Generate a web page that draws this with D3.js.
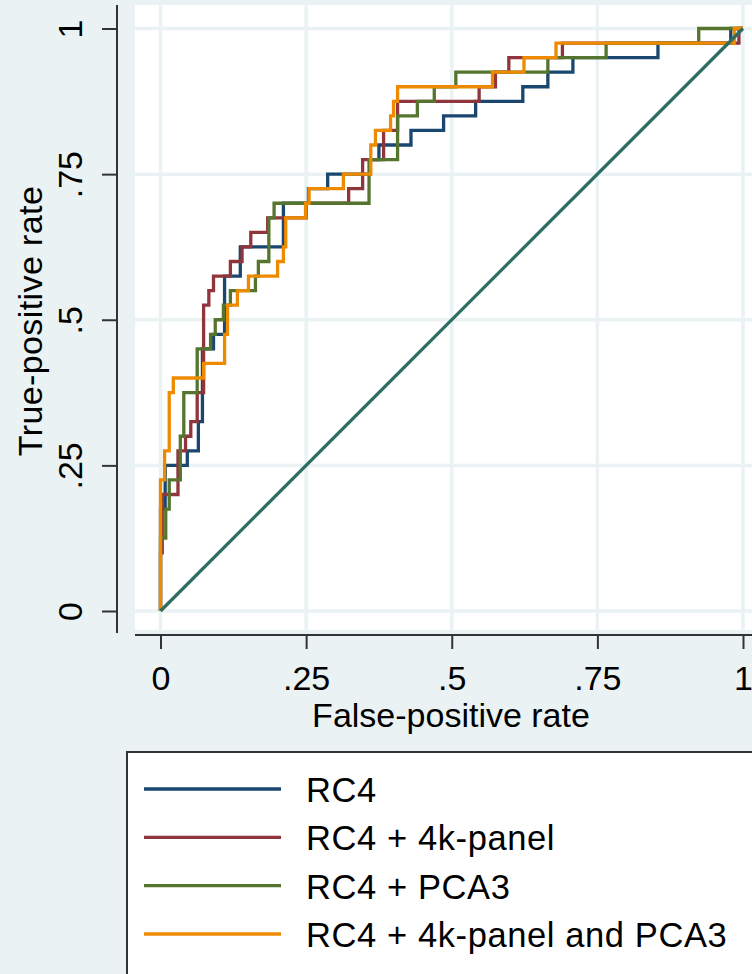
<!DOCTYPE html>
<html>
<head>
<meta charset="utf-8">
<script src="https://cdn.jsdelivr.net/npm/d3@7"></script>
<style>
  html, body { margin: 0; padding: 0; background: #eaf2f3; }
  svg { display: block; }
  text { font-family: "Liberation Sans", Arial, sans-serif; fill: #000; }
</style>
</head>
<body>
<svg id="chart" width="752" height="974"></svg>
<script>
// ---- Data ----
const tickValues = [0, 0.25, 0.5, 0.75, 1];
const tickLabels = ["0", ".25", ".5", ".75", "1"];
const seriesNames = ["RC4", "RC4 + 4k-panel", "RC4 + PCA3", "RC4 + 4k-panel and PCA3"];
const seriesColors = ["#1a476f", "#90353b", "#55752f", "#ee8a00"];

const rc4FPR = [0,0,0.008,0.008,0.046,0.046,0.065,0.065,0.072,0.072,0.091,0.091,0.11,0.11,0.137,0.137,0.211,0.211,0.254,0.254,0.287,0.287,0.36,0.36,0.375,0.375,0.43,0.43,0.486,0.486,0.541,0.541,0.622,0.622,0.665,0.665,0.708,0.708,0.854,0.854,0.979,0.979,1];
const rc4TPR = [0,0.175,0.175,0.25,0.25,0.275,0.275,0.325,0.325,0.45,0.45,0.475,0.475,0.575,0.575,0.625,0.625,0.7,0.7,0.725,0.725,0.75,0.75,0.775,0.775,0.8,0.8,0.825,0.825,0.85,0.85,0.875,0.875,0.9,0.9,0.925,0.925,0.95,0.95,0.975,0.975,1,1];

const rc4kFPR = [0,0,0.003,0.003,0.03,0.03,0.043,0.043,0.052,0.052,0.063,0.063,0.074,0.074,0.083,0.083,0.091,0.091,0.12,0.12,0.14,0.14,0.155,0.155,0.184,0.184,0.25,0.25,0.323,0.323,0.347,0.347,0.383,0.383,0.407,0.407,0.547,0.547,0.575,0.575,0.598,0.598,0.69,0.69,0.993,0.993,1];
const rc4kTPR = [0,0.1,0.1,0.2,0.2,0.275,0.275,0.3,0.3,0.325,0.325,0.375,0.375,0.525,0.525,0.55,0.55,0.575,0.575,0.6,0.6,0.625,0.625,0.65,0.65,0.675,0.675,0.7,0.7,0.725,0.725,0.775,0.775,0.825,0.825,0.875,0.875,0.9,0.9,0.925,0.925,0.95,0.95,0.975,0.975,1,1];

const rcPcaFPR = [0,0,0.009,0.009,0.015,0.015,0.034,0.034,0.04,0.04,0.063,0.063,0.086,0.086,0.094,0.094,0.108,0.108,0.12,0.12,0.163,0.163,0.168,0.168,0.186,0.186,0.195,0.195,0.358,0.358,0.407,0.407,0.441,0.441,0.47,0.47,0.507,0.507,0.665,0.665,0.765,0.765,0.924,0.924,1];
const rcPcaTPR = [0,0.125,0.125,0.175,0.175,0.225,0.225,0.3,0.3,0.375,0.375,0.45,0.45,0.475,0.475,0.5,0.5,0.525,0.525,0.55,0.55,0.575,0.575,0.6,0.6,0.675,0.675,0.7,0.7,0.775,0.775,0.85,0.85,0.875,0.875,0.9,0.9,0.925,0.925,0.95,0.95,0.975,0.975,1,1];

const allFPR = [0,0,0.007,0.007,0.015,0.015,0.022,0.022,0.074,0.074,0.11,0.11,0.115,0.115,0.132,0.132,0.151,0.151,0.201,0.201,0.211,0.211,0.215,0.215,0.249,0.249,0.255,0.255,0.314,0.314,0.361,0.361,0.369,0.369,0.395,0.395,0.4,0.4,0.407,0.407,0.57,0.57,0.624,0.624,0.679,0.679,0.985,0.985,1];
const allTPR = [0,0.225,0.225,0.275,0.275,0.375,0.375,0.4,0.4,0.425,0.425,0.475,0.475,0.525,0.525,0.55,0.55,0.575,0.575,0.6,0.6,0.625,0.625,0.675,0.675,0.7,0.7,0.725,0.725,0.75,0.75,0.8,0.8,0.825,0.825,0.85,0.85,0.875,0.875,0.9,0.9,0.925,0.925,0.95,0.95,0.975,0.975,1,1];

const refFPR = [0, 1];
const refTPR = [0, 1];
const refColor = "#2e6e62";

// ---- Build ----
const series = [
  {name: seriesNames[0], color: seriesColors[0], fpr: rc4FPR, tpr: rc4TPR},
  {name: seriesNames[1], color: seriesColors[1], fpr: rc4kFPR, tpr: rc4kTPR},
  {name: seriesNames[2], color: seriesColors[2], fpr: rcPcaFPR, tpr: rcPcaTPR},
  {name: seriesNames[3], color: seriesColors[3], fpr: allFPR, tpr: allTPR}
];

const svg = d3.select("#chart");
const x = d3.scaleLinear().domain([0, 1]).range([160.5, 743]);
const y = d3.scaleLinear().domain([0, 1]).range([611, 28.5]);
const fmt = d => tickLabels[tickValues.indexOf(d)];

// background
svg.append("rect").attr("x", 0).attr("y", 0).attr("width", 752).attr("height", 974).attr("fill", "#eaf2f3");
// plot region
svg.append("rect").attr("x", 135).attr("y", 5).attr("width", 640).attr("height", 625).attr("fill", "#ffffff");

// grid
const grid = svg.append("g");
grid.selectAll("line.v").data(tickValues).join("line")
  .attr("x1", d => x(d)).attr("x2", d => x(d)).attr("y1", 5).attr("y2", 630)
  .attr("stroke", "#eaf2f3").attr("stroke-width", 3.5);
grid.selectAll("line.h").data(tickValues).join("line")
  .attr("y1", d => y(d)).attr("y2", d => y(d)).attr("x1", 135).attr("x2", 752)
  .attr("stroke", "#eaf2f3").attr("stroke-width", 3.5);

// axes
const yAxis = svg.append("g").attr("transform", "translate(117,0)")
  .call(d3.axisLeft(y).tickValues(tickValues).tickFormat(fmt).tickSize(15).tickPadding(0));
yAxis.select(".domain").remove();
yAxis.selectAll(".tick line").attr("stroke", "#333").attr("stroke-width", 2);
yAxis.selectAll(".tick text")
  .attr("x", null).attr("dy", null)
  .attr("transform", "translate(-35,0) rotate(-90)")
  .attr("text-anchor", "middle")
  .style("font-size", "34px").style("font-family", "'Liberation Sans', Arial, sans-serif").attr("fill", "#000");
svg.append("line").attr("x1", 117).attr("x2", 117).attr("y1", 5).attr("y2", 633)
  .attr("stroke", "#333").attr("stroke-width", 2);

const xAxis = svg.append("g").attr("transform", "translate(0,635)")
  .call(d3.axisBottom(x).tickValues(tickValues).tickFormat(fmt).tickSize(14).tickPadding(0));
xAxis.select(".domain").remove();
xAxis.selectAll(".tick line").attr("stroke", "#333").attr("stroke-width", 2);
xAxis.selectAll(".tick text")
  .attr("y", 55).attr("dy", null)
  .style("font-size", "34px").style("font-family", "'Liberation Sans', Arial, sans-serif").attr("fill", "#000");
svg.append("line").attr("x1", 135).attr("x2", 752).attr("y1", 635).attr("y2", 635)
  .attr("stroke", "#333").attr("stroke-width", 2);

// axis titles
svg.append("text").attr("x", 451).attr("y", 727).attr("text-anchor", "middle")
  .style("font-size", "34px").text("False-positive rate");
svg.append("text").attr("transform", "translate(42,321) rotate(-90)").attr("text-anchor", "middle")
  .style("font-size", "34px").style("letter-spacing", "0.4px").text("True-positive rate");

// curves
const line = d3.line().x(d => x(d[0])).y(d => y(d[1]));
const plot = svg.append("g");
series.forEach(s => {
  const pts = s.fpr.map((f, i) => [f, s.tpr[i]]);
  plot.append("path").datum(pts).attr("d", line)
    .attr("fill", "none").attr("stroke", s.color).attr("stroke-width", 3.3)
    .attr("stroke-linejoin", "miter");
});
plot.append("path").datum(refFPR.map((f, i) => [f, refTPR[i]])).attr("d", line)
  .attr("fill", "none").attr("stroke", refColor).attr("stroke-width", 3.3);

// legend
const lg = svg.append("g");
lg.append("rect").attr("x", 127).attr("y", 752).attr("width", 660).attr("height", 260)
  .attr("fill", "#ffffff").attr("stroke", "#333").attr("stroke-width", 2);
const ly = d3.scalePoint().domain(seriesNames).range([789, 934]);
series.forEach(s => {
  lg.append("line").attr("x1", 144).attr("x2", 281).attr("y1", ly(s.name)).attr("y2", ly(s.name))
    .attr("stroke", s.color).attr("stroke-width", 3.3);
  lg.append("text").attr("x", 306).attr("y", ly(s.name) + 13)
    .style("font-size", "34.5px").style("letter-spacing", "0.6px").text(s.name);
});
</script>
</body>
</html>
